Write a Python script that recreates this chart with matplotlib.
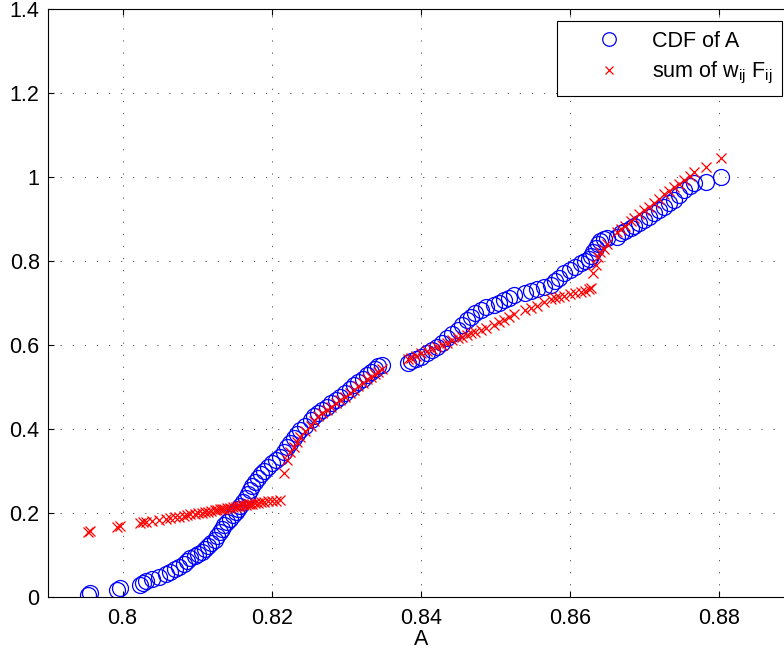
import numpy as np
import matplotlib
matplotlib.use("Agg")
import matplotlib.pyplot as plt

plt.rcParams['font.family'] = ['Liberation Sans', 'DejaVu Sans']
plt.rcParams['mathtext.fontset'] = 'custom'
plt.rcParams['mathtext.rm'] = 'Liberation Sans'
plt.rcParams['mathtext.it'] = 'Liberation Sans'

# sorted samples of A
a_sorted = [
    0.7954, 0.7956, 0.7993, 0.7996, 0.8024, 0.8027, 0.8032, 0.8040, 0.8049, 0.8058,
    0.8063, 0.8070, 0.8076, 0.8082, 0.8087, 0.8091, 0.8097, 0.8101, 0.8106, 0.8111,
    0.8115, 0.8119, 0.8124, 0.8127, 0.8130, 0.8133, 0.8136, 0.8140, 0.8144, 0.8148,
    0.8152, 0.8155, 0.8158, 0.8161, 0.8165, 0.8168, 0.8171, 0.8174, 0.8178, 0.8181,
    0.8185, 0.8190, 0.8195, 0.8200, 0.8206, 0.8211, 0.8216, 0.8221, 0.8225, 0.8230,
    0.8234, 0.8238, 0.8245, 0.8252, 0.8257, 0.8262, 0.8268, 0.8274, 0.8280, 0.8286,
    0.8292, 0.8298, 0.8305, 0.8310, 0.8316, 0.8322, 0.8328, 0.8333, 0.8338, 0.8343,
    0.8348, 0.8383, 0.8386, 0.8393, 0.8400, 0.8408, 0.8415, 0.8422, 0.8428, 0.8435,
    0.8442, 0.8449, 0.8455, 0.8462, 0.8467, 0.8472, 0.8480, 0.8487, 0.8498, 0.8505,
    0.8511, 0.8518, 0.8525, 0.8540, 0.8547, 0.8556, 0.8565, 0.8574, 0.8580, 0.8585,
    0.8592, 0.8600, 0.8607, 0.8614, 0.8620, 0.8625, 0.8628, 0.8631, 0.8634, 0.8637,
    0.8640, 0.8645, 0.8650, 0.8663, 0.8668, 0.8674, 0.8681, 0.8686, 0.8692, 0.8699,
    0.8706, 0.8712, 0.8719, 0.8726, 0.8732, 0.8739, 0.8746, 0.8753, 0.8760, 0.8766,
    0.8782, 0.8802,
]

# empirical CDF of A
cdf_a = [
    0.005, 0.010, 0.015, 0.020, 0.027, 0.032, 0.037, 0.042, 0.048, 0.054,
    0.060, 0.065, 0.070, 0.078, 0.085, 0.092, 0.097, 0.102, 0.107, 0.113,
    0.120, 0.127, 0.135, 0.145, 0.155, 0.162, 0.170, 0.178, 0.186, 0.195,
    0.203, 0.210, 0.217, 0.225, 0.235, 0.245, 0.254, 0.263, 0.274, 0.283,
    0.292, 0.300, 0.310, 0.318, 0.326, 0.334, 0.345, 0.356, 0.366, 0.378,
    0.388, 0.397, 0.408, 0.421, 0.430, 0.438, 0.446, 0.453, 0.461, 0.470,
    0.477, 0.486, 0.496, 0.504, 0.512, 0.520, 0.528, 0.536, 0.543, 0.549,
    0.553, 0.556, 0.562, 0.566, 0.572, 0.580, 0.588, 0.596, 0.606, 0.616,
    0.626, 0.636, 0.648, 0.660, 0.668, 0.676, 0.684, 0.690, 0.695, 0.701,
    0.707, 0.713, 0.719, 0.724, 0.729, 0.733, 0.738, 0.743, 0.752, 0.760,
    0.772, 0.779, 0.785, 0.795, 0.800, 0.805, 0.813, 0.822, 0.832, 0.841,
    0.848, 0.853, 0.855, 0.858, 0.866, 0.872, 0.878, 0.884, 0.890, 0.898,
    0.906, 0.914, 0.922, 0.930, 0.938, 0.946, 0.958, 0.970, 0.978, 0.986,
    0.989, 1.000,
]

# weighted sum  sum_ij w_ij F_ij  at the same samples
wf_sum = [
    0.155, 0.157, 0.165, 0.168, 0.175, 0.177, 0.178, 0.180, 0.183, 0.186,
    0.188, 0.190, 0.191, 0.193, 0.195, 0.196, 0.198, 0.199, 0.200, 0.202,
    0.203, 0.205, 0.206, 0.207, 0.208, 0.209, 0.210, 0.211, 0.212, 0.214,
    0.215, 0.216, 0.217, 0.218, 0.219, 0.220, 0.221, 0.222, 0.223, 0.224,
    0.225, 0.226, 0.227, 0.228, 0.229, 0.230, 0.296, 0.326, 0.345, 0.358,
    0.368, 0.380, 0.395, 0.408, 0.420, 0.430, 0.438, 0.445, 0.452, 0.461,
    0.468, 0.476, 0.486, 0.494, 0.502, 0.510, 0.518, 0.524, 0.530, 0.536,
    0.542, 0.566, 0.568, 0.574, 0.580, 0.586, 0.591, 0.596, 0.601, 0.606,
    0.611, 0.616, 0.620, 0.624, 0.628, 0.631, 0.636, 0.641, 0.648, 0.654,
    0.660, 0.667, 0.674, 0.684, 0.689, 0.694, 0.702, 0.710, 0.713, 0.715,
    0.718, 0.722, 0.725, 0.727, 0.730, 0.733, 0.736, 0.771, 0.791, 0.811,
    0.822, 0.830, 0.840, 0.870, 0.876, 0.884, 0.896, 0.904, 0.912, 0.922,
    0.930, 0.938, 0.948, 0.960, 0.968, 0.976, 0.985, 0.993, 1.002, 1.012,
    1.025, 1.045,
]

x_ticks = [0.80, 0.82, 0.84, 0.86, 0.88]
x_ticklabels = ['0.8', '0.82', '0.84', '0.86', '0.88']
y_ticks = [0, 0.2, 0.4, 0.6, 0.8, 1.0, 1.2, 1.4]
y_ticklabels = ['0', '0.2', '0.4', '0.6', '0.8', '1', '1.2', '1.4']

fs = 15.5

fig = plt.figure(figsize=(7.84, 6.55), dpi=100)
ax = fig.add_axes([0.0612, 0.089, 0.9515, 0.8965])

ax.plot(a_sorted, cdf_a, 'o', color='b', markerfacecolor='none',
        markersize=11.5, markeredgewidth=0.9, label='CDF of A')
ax.plot(a_sorted, wf_sum, 'x', color='r',
        markersize=7.5, markeredgewidth=0.9, label=r'sum of w$_{\mathrm{ij}}$ F$_{\mathrm{ij}}$')

ax.set_xlim(0.79, 0.89)
ax.set_ylim(0, 1.4)
ax.set_xticks(x_ticks)
ax.set_xticklabels(x_ticklabels)
ax.set_yticks(y_ticks)
ax.set_yticklabels(y_ticklabels)
ax.tick_params(direction='in', length=4, width=0.8, top=True, right=True,
               labelsize=fs)
ax.tick_params(axis='x', pad=8)
ax.tick_params(axis='y', pad=6)
ax.set_xlabel('A', fontsize=fs, labelpad=0)

ax.grid(True, color='0.25', linestyle=(0, (1.5, 13)), linewidth=0.6)
for s in ax.spines.values():
    s.set_linewidth(0.8)

leg = ax.legend(loc='upper right', bbox_to_anchor=(782 / 784, 1 - 21 / 655),
                bbox_transform=fig.transFigure, fontsize=fs, fancybox=False,
                edgecolor='k', framealpha=1, borderpad=0.45, borderaxespad=0,
                handlelength=3.9, handletextpad=0.05, labelspacing=0.4,
                numpoints=1, markerscale=0.85)
leg.get_frame().set_linewidth(0.8)

fig.savefig('out.png', dpi=100)
